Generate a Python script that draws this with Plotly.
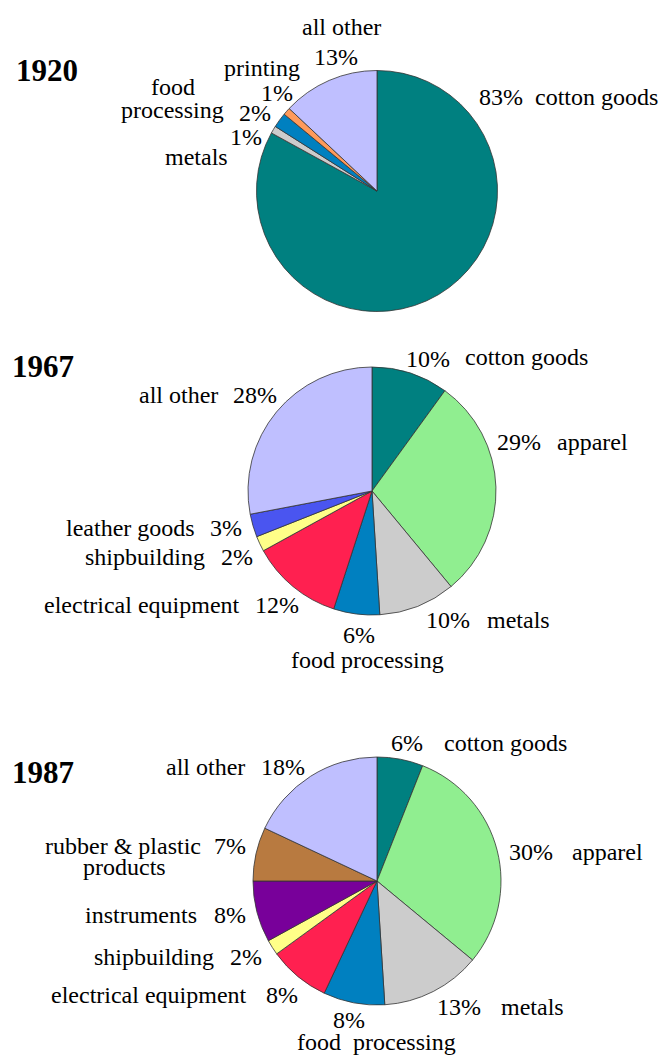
import plotly.graph_objects as go

# ---------------- data ----------------
years = ["1920", "1967", "1987"]

cats_1920 = ["cotton goods", "metals", "food processing", "printing", "all other"]
vals_1920 = [83, 1, 2, 1, 13]

cats_1967 = ["cotton goods", "apparel", "metals", "food processing",
             "electrical equipment", "shipbuilding", "leather goods", "all other"]
vals_1967 = [10, 29, 10, 6, 12, 2, 3, 28]

cats_1987 = ["cotton goods", "apparel", "metals", "food processing",
             "electrical equipment", "shipbuilding", "instruments",
             "rubber & plastic products", "all other"]
vals_1987 = [6, 30, 13, 8, 8, 2, 8, 7, 18]

colors = {
    "cotton goods": "#008080",
    "apparel": "#90EE90",
    "metals": "#CCCCCC",
    "food processing": "#0080C0",
    "electrical equipment": "#FF2050",
    "shipbuilding": "#FFFF88",
    "leather goods": "#4A55F0",
    "instruments": "#78009A",
    "rubber & plastic products": "#B87A40",
    "printing": "#FF9A5A",
    "all other": "#BFBFFF",
}

W, H = 661, 1055
FONT = "Liberation Serif, Times New Roman, serif"
FS = 24

def px(x):
    return x / W

def py(y):
    return 1 - y / H

# pie placement (pixel center, radius)
pies = [
    (cats_1920, vals_1920, (377, 191, 120.5)),
    (cats_1967, vals_1967, (372, 491, 124)),
    (cats_1987, vals_1987, (377, 881, 124)),
]

fig = go.Figure()
for cats, vals, (cx, cy, r) in pies:
    fig.add_trace(go.Pie(
        labels=cats, values=vals, sort=False, direction="clockwise", rotation=0,
        marker=dict(colors=[colors[c] for c in cats], line=dict(color="#333333", width=0.8)),
        textinfo="none", hoverinfo="label+percent", showlegend=False,
        domain=dict(x=[px(cx - r), px(cx + r)], y=[py(cy + r), py(cy - r)]),
    ))

# label layout: (name text, x, y, anchor) and (pct x, y, anchor)
name_layout = {
    "1920": {
        "cotton goods": ("cotton goods", 533, 97, "left"),
        "all other": ("all other", 342, 27, "center"),
        "printing": ("printing", 262, 68, "center"),
        "food processing": ("food", 173, 87, "center"),
        "metals": ("metals", 196, 157, "center"),
    },
    "1967": {
        "cotton goods": ("cotton goods", 463, 357, "left"),
        "all other": ("all other", 220, 395, "right"),
        "apparel": ("apparel", 555, 442, "left"),
        "leather goods": ("leather goods", 197, 528, "right"),
        "shipbuilding": ("shipbuilding", 207, 557, "right"),
        "electrical equipment": ("electrical equipment", 242, 605, "right"),
        "metals": ("metals", 485, 620, "left"),
        "food processing": ("food processing", 367, 660, "center"),
    },
    "1987": {
        "cotton goods": ("cotton goods", 442, 743, "left"),
        "all other": ("all other", 247, 767, "right"),
        "apparel": ("apparel", 570, 852, "left"),
        "rubber & plastic products": ("rubber & plastic", 203, 846, "right"),
        "instruments": ("instruments", 199, 915, "right"),
        "shipbuilding": ("shipbuilding", 216, 957, "right"),
        "electrical equipment": ("electrical equipment", 249, 995, "right"),
        "metals": ("metals", 499, 1007, "left"),
        "food processing": ("food\u00a0\u00a0processing", 376, 1042, "center"),
    },
}
extra_lines = [
    ("processing", 172, 110, "center"),
    ("products", 124, 867, "center"),
]
pct_layout = {
    "1920": {
        "cotton goods": (477, 97, "left"),
        "all other": (336, 57, "center"),
        "printing": (277, 93, "center"),
        "food processing": (255, 113, "center"),
        "metals": (246, 137, "center"),
    },
    "1967": {
        "cotton goods": (428, 359, "center"),
        "all other": (255, 395, "center"),
        "apparel": (519, 442, "center"),
        "leather goods": (226, 528, "center"),
        "shipbuilding": (237, 557, "center"),
        "electrical equipment": (277, 605, "center"),
        "metals": (448, 620, "center"),
        "food processing": (359, 635, "center"),
    },
    "1987": {
        "cotton goods": (407, 743, "center"),
        "all other": (283, 767, "center"),
        "apparel": (531, 852, "center"),
        "rubber & plastic products": (230, 846, "center"),
        "instruments": (230, 915, "center"),
        "shipbuilding": (246, 957, "center"),
        "electrical equipment": (282, 995, "center"),
        "metals": (459, 1007, "center"),
        "food processing": (349, 1020, "center"),
    },
}

ann = []
def add_text(text, x, y, anchor, size=FS, bold=False):
    ann.append(dict(
        text=f"<b>{text}</b>" if bold else text,
        x=px(x), y=py(y), xref="paper", yref="paper",
        xanchor=anchor, yanchor="middle", showarrow=False,
        font=dict(family=FONT, size=size, color="#000000"),
    ))

for year, (cats, vals, _) in zip(years, pies):
    for c, v in zip(cats, vals):
        t, x, y, a = name_layout[year][c]
        add_text(t, x, y, a)
        x2, y2, a2 = pct_layout[year][c]
        add_text(f"{v}%", x2, y2, a2)
for t, x, y, a in extra_lines:
    add_text(t, x, y, a)

year_pos = [(47, 70), (43, 366), (43, 772)]
for yr, (x, y) in zip(years, year_pos):
    add_text(yr, x, y, "center", size=31, bold=True)

fig.update_layout(
    width=W, height=H, margin=dict(l=0, r=0, t=0, b=0),
    paper_bgcolor="white", plot_bgcolor="white",
    annotations=ann,
)
fig.write_html("out.html", config={"displayModeBar": False},
               post_script="document.body.style.margin='0';")
